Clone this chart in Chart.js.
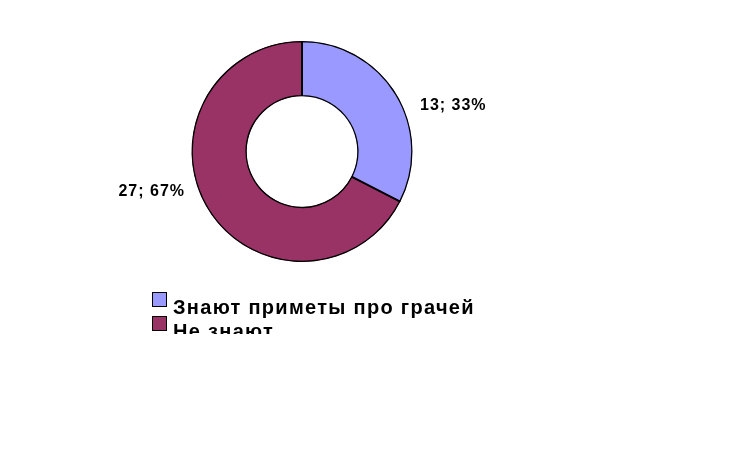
<!DOCTYPE html>
<html>
<head>
<meta charset="utf-8">
<script src="https://cdn.jsdelivr.net/npm/chart.js@4/dist/chart.umd.min.js"></script>
<style>
  html, body { margin: 0; padding: 0; background: #fff; }
  #wrap { width: 749px; height: 466px; }
</style>
</head>
<body>
<div id="wrap"><canvas id="pie" width="749" height="466"></canvas></div>
<script>
// данные опроса
const labels = ["Знают приметы про грачей", "Не знают"];
const counts = [13, 27];
const colors = ["#9999FF", "#993366"];

// проценты как в Excel: в сумме 100
function percents(vals) {
  const total = vals.reduce((a, b) => a + b, 0);
  const out = vals.map(v => Math.round(v / total * 100));
  out[out.length - 1] = 100 - out.slice(0, -1).reduce((a, b) => a + b, 0);
  return out;
}

// подписи значений "13; 33%" рядом с секторами
const sliceLabels = {
  id: "sliceLabels",
  afterDatasetsDraw(chart) {
    const ctx = chart.ctx;
    const meta = chart.getDatasetMeta(0);
    const pct = percents(counts);
    ctx.save();
    ctx.font = "bold 16px 'Liberation Sans', Arial, sans-serif";
    ctx.letterSpacing = "1px";
    ctx.fillStyle = "#000";
    ctx.textBaseline = "middle";
    meta.data.forEach((arc, i) => {
      const mid = (arc.startAngle + arc.endAngle) / 2;
      const right = Math.cos(mid) > 0;
      const x = arc.x + (right ? 118 : -117);
      const y = arc.y + Math.sin(mid) * 82 - 3;
      ctx.textAlign = right ? "left" : "right";
      ctx.fillText(counts[i] + "; " + pct[i] + "%", x, y);
    });
    ctx.restore();
  }
};

// легенда под диаграммой, обрезана снизу как в оригинале
const bottomLegend = {
  id: "bottomLegend",
  afterDraw(chart) {
    const ctx = chart.ctx;
    ctx.save();
    ctx.beginPath();
    ctx.rect(0, 0, chart.width, 334);
    ctx.clip();
    ctx.font = "bold 20px 'Liberation Sans', Arial, sans-serif";
    ctx.letterSpacing = "1.3px";
    ctx.textBaseline = "alphabetic";
    ctx.textAlign = "left";
    labels.forEach((lab, i) => {
      const top = 292 + i * 24;
      ctx.fillStyle = colors[i];
      ctx.fillRect(152.5, top + 0.5, 14, 14);
      ctx.strokeStyle = "#000";
      ctx.lineWidth = 1;
      ctx.strokeRect(152.5, top + 0.5, 14, 14);
      ctx.fillStyle = "#000";
      ctx.fillText(lab, 173, top + 22);
    });
    ctx.restore();
  }
};

new Chart(document.getElementById("pie"), {
  type: "doughnut",
  data: {
    labels: labels,
    datasets: [{
      data: counts,
      backgroundColor: colors,
      borderColor: "#000",
      borderWidth: 1,
      borderAlign: "inner"
    }]
  },
  options: {
    responsive: false,
    animation: false,
    cutout: "50%",
    rotation: 0,
    layout: { padding: { left: 191, top: 41, right: 336, bottom: 204 } },
    plugins: {
      legend: { display: false },
      tooltip: { enabled: false }
    }
  },
  plugins: [sliceLabels, bottomLegend]
});
</script>
</body>
</html>
